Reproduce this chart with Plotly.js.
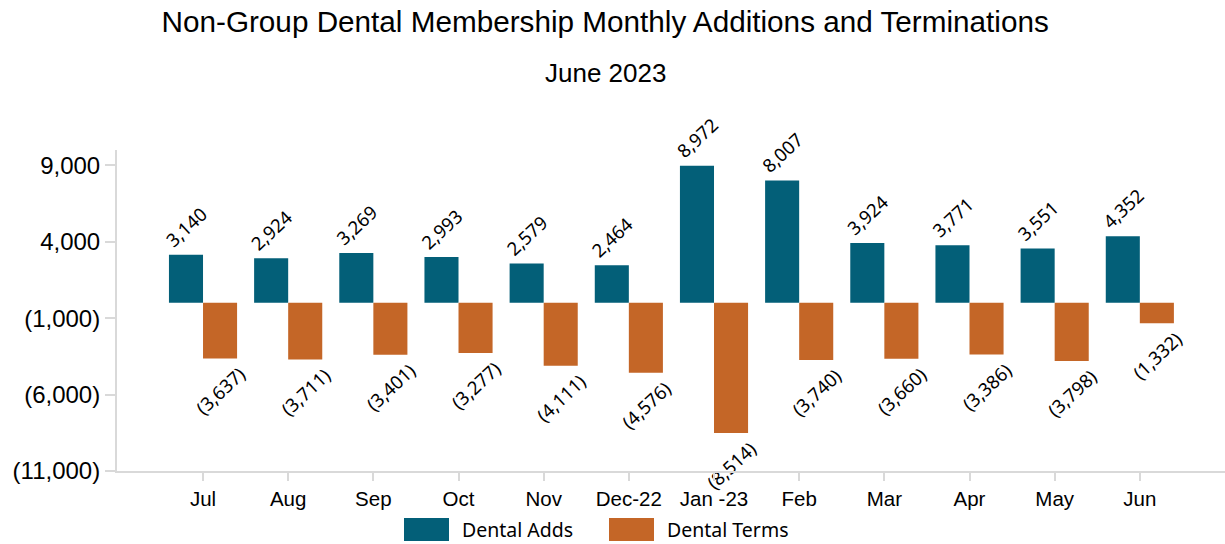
<!DOCTYPE html>
<html>
<head>
<meta charset="utf-8">
<script src="https://cdn.plot.ly/plotly-3.0.1.min.js"></script>
<style>html,body{margin:0;padding:0;background:#fff;}#chart{width:1225px;height:544px;}</style>
</head>
<body>
<div id="chart"></div>
<script>
const months = ["Jul","Aug","Sep","Oct","Nov","Dec-22","Jan -23","Feb","Mar","Apr","May","Jun"];
const dentalAdds = [3140, 2924, 3269, 2993, 2579, 2464, 8972, 8007, 3924, 3771, 3551, 4352];
const dentalTerms = [-3637, -3711, -3401, -3277, -4111, -4576, -8514, -3740, -3660, -3386, -3798, -1332];
const yTickVals = [-11000, -6000, -1000, 4000, 9000];
const yTickText = ["(11,000)", "(6,000)", "(1,000)", "4,000", "9,000"];

function fmt(v){
  const s = Math.abs(v).toLocaleString("en-US");
  return v < 0 ? "(" + s + ")" : s;
}

const TEAL = "#035f78";
const ORANGE = "#c46627";
const labelFont = {family: "Noto Sans, Open Sans, sans-serif", size: 18.5, color: "#000"};

const traces = [
  {type: "bar", name: "Dental Adds", x: months, y: dentalAdds,
   marker: {color: TEAL, line: {width: 0}},
   text: dentalAdds.map(fmt), textposition: "outside", textangle: -43, constraintext: "none",
   textfont: labelFont, cliponaxis: false, hoverinfo: "skip"},
  {type: "bar", name: "Dental Terms", x: months, y: dentalTerms,
   marker: {color: ORANGE, line: {width: 0}},
   text: dentalTerms.map(fmt), textposition: "outside", textangle: -43, constraintext: "none",
   textfont: labelFont, cliponaxis: false, hoverinfo: "skip"}
];

const layout = {
  width: 1225, height: 544,
  margin: {l: 117, r: 0, t: 150, b: 73},
  paper_bgcolor: "#fff", plot_bgcolor: "#fff",
  barmode: "group", bargap: 0.2, bargroupgap: 0,
  showlegend: false,
  font: {family: "Liberation Sans, Arial, sans-serif", color: "#000"},
  xaxis: {
    type: "category", range: [-1.01, 12.0],
    showline: true, linecolor: "#d9d9d9", linewidth: 2,
    ticks: "outside", ticklen: 8, tickcolor: "#d9d9d9", tickwidth: 2,
    tickfont: {size: 20.5, family: "Liberation Sans, Arial, sans-serif"},
    showgrid: false, zeroline: false, fixedrange: true
  },
  yaxis: {
    range: [-11000, 10000],
    tickvals: yTickVals, ticktext: yTickText,
    showline: true, linecolor: "#d9d9d9", linewidth: 2,
    ticks: "outside", ticklen: 10, tickcolor: "#d9d9d9", tickwidth: 2,
    tickfont: {size: 24, family: "Liberation Sans, Arial, sans-serif"},
    showgrid: false, zeroline: false, fixedrange: true
  },
  title: {
    text: "Non-Group Dental Membership Monthly Additions and Terminations",
    font: {family: "Liberation Sans, Arial, sans-serif", size: 29.7, color: "#000"},
    x: 0.494, xanchor: "center", y: 0.96, yanchor: "middle"
  },
  annotations: [
    {text: "June 2023", xref: "paper", yref: "paper", x: 0.441, y: 1.0 + (150-73)/321, xanchor: "center", yanchor: "middle",
     showarrow: false, font: {family: "Liberation Sans, Arial, sans-serif", size: 26, color: "#000"}},
    {text: "Dental Adds", xref: "paper", yref: "paper", x: (460-117)/1108, y: -(529-471)/321, xanchor: "left", yanchor: "middle",
     showarrow: false, font: {family: "Noto Sans, Open Sans, sans-serif", size: 19.5, color: "#000"}},
    {text: "Dental Terms", xref: "paper", yref: "paper", x: (665-117)/1108, y: -(529-471)/321, xanchor: "left", yanchor: "middle",
     showarrow: false, font: {family: "Noto Sans, Open Sans, sans-serif", size: 19.5, color: "#000"}}
  ],
  shapes: [
    {type: "rect", xref: "paper", yref: "paper", x0: (404-117)/1108, x1: (449-117)/1108, y0: -(518-471)/321, y1: -(541-471)/321,
     fillcolor: TEAL, line: {width: 0}},
    {type: "rect", xref: "paper", yref: "paper", x0: (609-117)/1108, x1: (654-117)/1108, y0: -(518-471)/321, y1: -(541-471)/321,
     fillcolor: ORANGE, line: {width: 0}}
  ]
};

Plotly.newPlot("chart", traces, layout, {displayModeBar: false, staticPlot: true});
</script>
</body>
</html>
